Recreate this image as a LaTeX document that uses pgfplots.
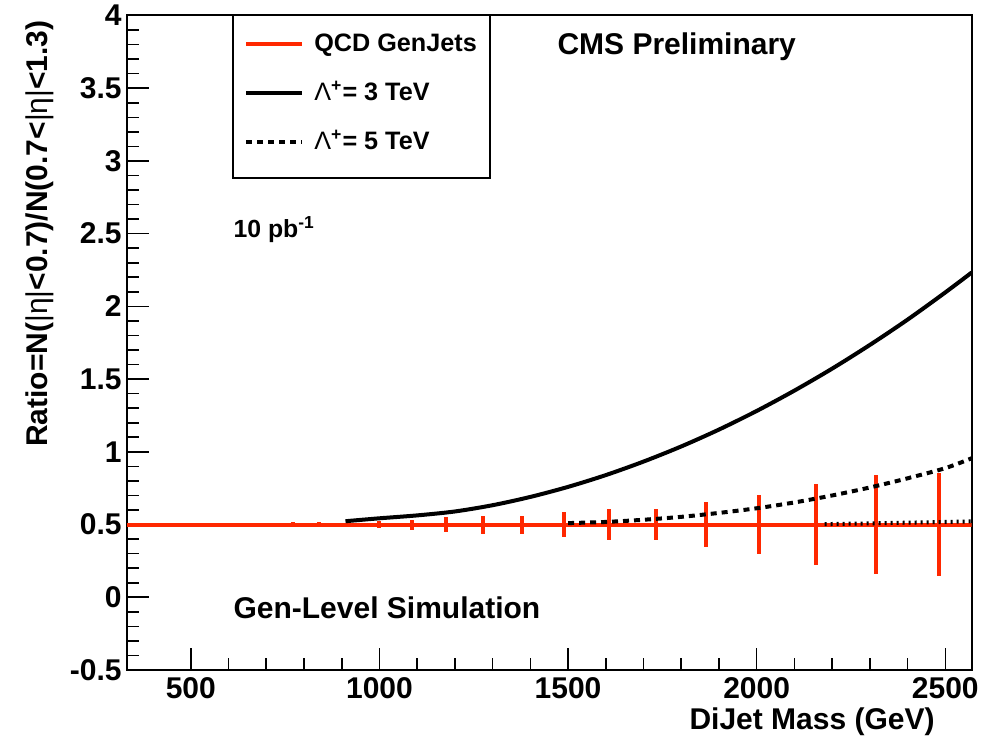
\documentclass[border=0pt]{standalone}
\usepackage{fontspec}
\setmainfont{Liberation Sans}
\usepackage{pgfplots}
\usepackage{pgfplotstable}
\pgfplotsset{compat=1.18}
\definecolor{rootred}{RGB}{255,40,0}

% QCD GenJets ratio, bin centres and stat. errors
\pgfplotstableread{
m r err
330 0.5 0
345 0.5 0.004
389 0.5 0.004
432 0.5 0.004
478 0.5 0.004
527 0.5 0.004
582 0.5 0.004
641 0.5 0.005
702 0.5 0.008
770 0.5 0.016
839 0.5 0.020
917 0.5 0.020
998 0.5 0.026
1085 0.5 0.034
1177 0.5 0.049
1274 0.5 0.062
1379 0.5 0.062
1489 0.5 0.086
1608 0.5 0.107
1733 0.5 0.108
1866 0.5 0.155
2007 0.5 0.204
2157 0.5 0.281
2315 0.5 0.342
2484 0.5 0.353
2570 0.5 0
}\qcd

% contact interaction Lambda+ = 3 TeV
\pgfplotstableread{
m r
910 0.523
1000 0.543
1100 0.563
1200 0.590
1300 0.633
1400 0.690
1500 0.759
1600 0.840
1700 0.933
1800 1.037
1900 1.153
2000 1.281
2100 1.421
2200 1.572
2300 1.735
2400 1.909
2500 2.096
2570 2.233
}\lamthree

% Lambda+ = 5 TeV
\pgfplotstableread{
m r
1500 0.510
1600 0.518
1700 0.533
1800 0.553
1900 0.580
2000 0.612
2100 0.652
2200 0.700
2300 0.755
2400 0.818
2500 0.888
2570 0.956
}\lamfive

\pgfplotstableread{
m r
2180 0.503
2300 0.508
2400 0.513
2500 0.518
2570 0.522
}\lamten

\begin{document}
\begin{tikzpicture}
\begin{axis}[
name=ax,
scale only axis,
width=422.5pt, height=327.25pt,
xmin=330, xmax=2570,
ymin=-0.5, ymax=4,
xtick={500,1000,1500,2000,2500},
ytick={-0.5,0,0.5,1,1.5,2,2.5,3,3.5,4},
minor x tick num=4,
minor y tick num=4,
tick pos=left,
tick align=inside,
major tick length=11pt,
minor tick length=6pt,
every tick/.style={black, line width=0.8pt},
axis line style={line width=1pt},
/pgf/number format/assume math mode=true,
/pgf/number format/set thousands separator={},
ticklabel style={font=\fontsize{15}{18}\selectfont\bfseries},
yticklabel style={xshift=1pt},
xlabel={DiJet Mass (GeV)},
xlabel style={font=\fontsize{15}{18}\selectfont\bfseries, inner sep=0pt,
  at={(rel axis cs:0.9566,-0.0565)}, anchor=north east},
ylabel={Ratio=N({\mdseries|η|}<0.7)/N(0.7<{\mdseries|η|}<1.3)},
ylabel style={font=\fontsize{15}{18}\selectfont\bfseries, inner sep=0pt,
  at={(rel axis cs:-0.1026,0.993)}, anchor=east},
legend style={at={(rel axis cs:0.1388,1)}, anchor=north west, draw=none, fill=none,
  font=\fontsize{12.6}{15}\selectfont\bfseries, inner xsep=0pt, inner ysep=7pt,
  row sep=9.5pt, cells={anchor=west},
  /tikz/every odd column/.append style={column sep=3pt}},
legend cell align=left,
legend image code/.code={\draw[#1] (0pt,0pt) -- (28pt,0pt);},
]
\addplot[rootred, line width=2pt, mark=none,
  error bars/.cd, y dir=both, y explicit, error mark=none,
  error bar style={line width=2pt, rootred}]
  table[x=m, y=r, y error=err] {\qcd};
\addlegendentry{QCD GenJets}
\addplot[black, line width=2pt, mark=none, smooth] table[x=m, y=r] {\lamthree};
\addlegendentry{{\mdseries Λ}\textsuperscript{+}= 3 TeV}
\addplot[black, line width=2pt, mark=none, smooth, dash pattern=on 3pt off 2.5pt] table[x=m, y=r] {\lamfive};
\addlegendentry{{\mdseries Λ}\textsuperscript{+}= 5 TeV}
\addplot[black, line width=2pt, mark=none, dash pattern=on 1pt off 2pt, forget plot] table[x=m, y=r] {\lamten};

\draw[line width=0.7pt] (rel axis cs:0.126,1) rectangle (rel axis cs:0.43,0.7517);
\node[anchor=base west, font=\fontsize{15}{18}\selectfont\bfseries, inner sep=0pt]
  at (rel axis cs:0.5094,0.940) {CMS Preliminary};
\node[anchor=base west, font=\fontsize{12.4}{15}\selectfont\bfseries, inner sep=0pt]
  at (rel axis cs:0.126,0.661) {10 pb\textsuperscript{-1}};
\node[anchor=base west, font=\fontsize{15}{18}\selectfont\bfseries, inner sep=0pt]
  at (rel axis cs:0.126,0.079) {Gen-Level Simulation};
\end{axis}
\pgfresetboundingbox
\path ([xshift=-63.35pt,yshift=-34.5pt]ax.south west) rectangle ([xshift=9.15pt,yshift=7.75pt]ax.north east);
\end{tikzpicture}
\end{document}
